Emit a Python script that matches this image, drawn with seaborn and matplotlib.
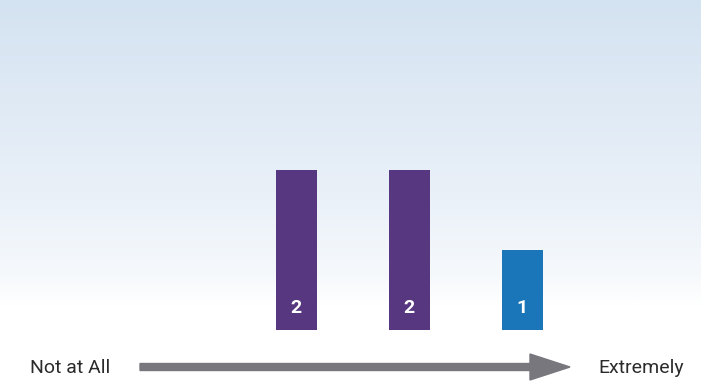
import numpy as np
import pandas as pd
import matplotlib
matplotlib.use("Agg")
import matplotlib.pyplot as plt
import seaborn as sns
from matplotlib.colors import LinearSegmentedColormap
from matplotlib.patches import FancyArrow

categories = ["1", "2", "3", "4", "5", "6"]
values = [0, 0, 2, 2, 1, 0]
bar_colors = ["#563780", "#563780", "#563780", "#563780", "#1b75b9", "#1b75b9"]
left_label = "Not at All"
right_label = "Extremely"

sns.set_theme(style="white")
plt.rcParams['font.family'] = ['Liberation Sans Narrow', 'Roboto', 'DejaVu Sans']

W, H = 701, 383
fig = plt.figure(figsize=(W / 100, H / 100), dpi=100)

# background gradient
bg = fig.add_axes([0, 0, 1, 1], zorder=0)
cmap = LinearSegmentedColormap.from_list(
    "bg", [(0.0, "#d4e3f1"), (0.5, "#e9f0f8"), (0.72, "#f6f9fc"), (0.8, "#ffffff"), (1.0, "#ffffff")])
grad = np.linspace(0, 1, 256).reshape(-1, 1)
bg.imshow(grad, aspect="auto", cmap=cmap, extent=[0, 1, 0, 1], origin="upper")
bg.set_axis_off()

ax = fig.add_axes([0, 0, 1, 1], zorder=1)
ax.patch.set_alpha(0)
df = pd.DataFrame({"cat": categories, "val": values})
sns.barplot(data=df, x="cat", y="val", hue="cat", palette=bar_colors,
            order=categories, legend=False, width=41 / 113, ax=ax,
            saturation=1, edgecolor="none")

px_per_cat = 113.0
px_per_unit = 80.0
ax.set_xlim(-70 / px_per_cat, (W - 70) / px_per_cat)
ax.set_ylim(-(H - 330) / px_per_unit, 330 / px_per_unit)
ax.set_axis_off()

for i, v in enumerate(values):
    ax.text(i, 22 / px_per_unit, str(v), ha="center", va="center", color="white",
            fontsize=14, fontweight="bold", family=["Roboto", "DejaVu Sans"])

def fx(px):
    return px / W

def fy(py):
    return (H - py) / H

arrow = FancyArrow(fx(140), fy(367), fx(570) - fx(140), 0,
                   width=7 / H, head_width=26 / H, head_length=fx(40),
                   length_includes_head=True, transform=fig.transFigure,
                   color="#77777d", zorder=3)
fig.add_artist(arrow)

fig.text(fx(30), fy(368), left_label, ha="left", va="center", fontsize=14, color="#2b2b2b")
fig.text(fx(684), fy(368), right_label, ha="right", va="center", fontsize=14, color="#2b2b2b")

fig.savefig("out.png", dpi=100)
